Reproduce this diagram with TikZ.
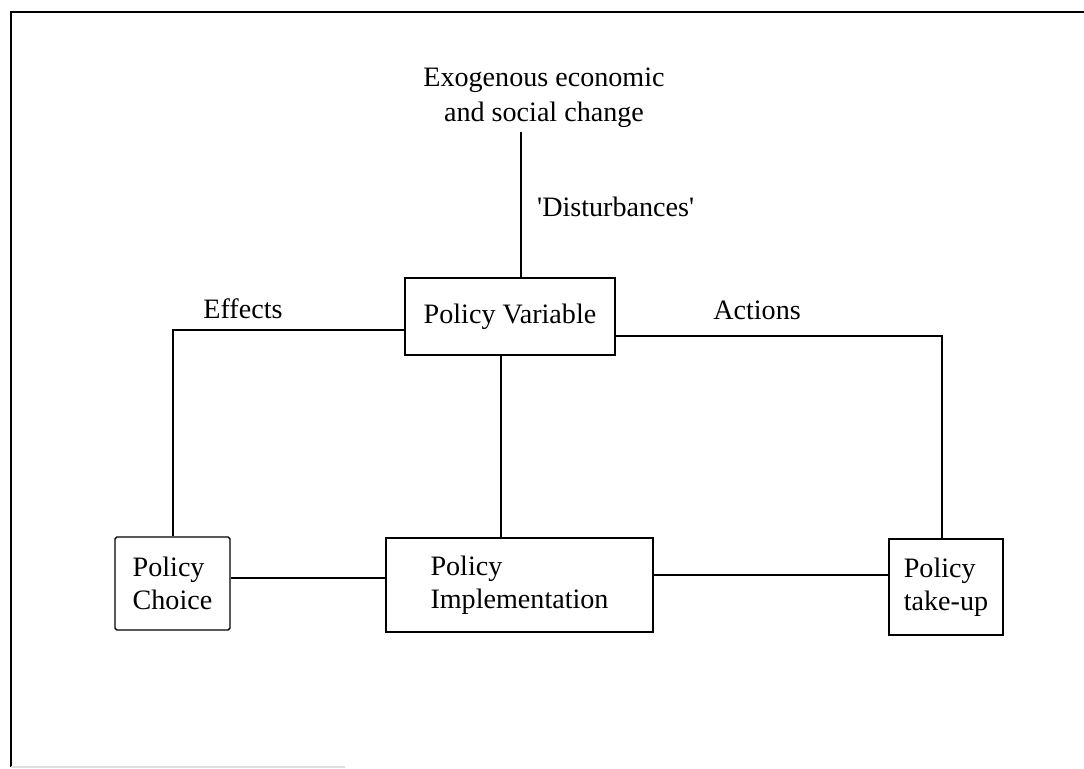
\documentclass[tikz,border=0pt]{standalone}
\usepackage{fontspec}
\setmainfont{Liberation Serif}
\usetikzlibrary{positioning}

\begin{document}
\begin{tikzpicture}[x=0.02cm, y=-0.02cm,
    box/.style={draw, line width=0.8pt, inner sep=0pt, align=left},
    link/.style={draw, line width=0.7pt},
    font=\fontsize{16}{19}\selectfont]
    \useasboundingbox (0,0) rectangle (1084,768);

    % Frame round the figure
    \draw[line width=1.2pt] (11,767) -- (11,12) -- (1084,12);
    \draw[gray!25, line width=0.6pt] (11,767) -- (345,767);

    % Define the boxes
    \node[box, minimum width=4.2cm, minimum height=1.54cm] (pv) at (510,316.5) {Policy Variable};
    \node[box, minimum width=2.3cm, minimum height=1.86cm, rounded corners=1pt] (pc) at (172.5,583.5) {Policy\\Choice};
    \node[box, minimum width=5.34cm, minimum height=1.88cm] (pi) at (519.5,585) {Policy\\Implementation};
    \node[box, minimum width=2.28cm, minimum height=1.92cm] (pt) at (946,587) {Policy\\take-up};

    % Texts without a box
    \node[align=center, font=\fontsize{16}{20}\selectfont] (exo) at (544,98) {Exogenous economic\\and social change};
    \node[anchor=west] (dist) at (531,207) {\textquotesingle Disturbances\textquotesingle};
    \node (eff) at (243,309) {Effects};
    \node (act) at (757,310) {Actions};

    % Corners of the connectors
    \coordinate (dtop) at (521,132);
    \coordinate (effc) at (173,330);
    \coordinate (actc) at (942,336);

    % Draw the connectors
    \draw[link] (dtop) -- (dtop |- pv.north);
    \draw[link] (pv.west |- effc) -- (effc) -- (effc |- pc.north);
    \draw[link] (pv.east |- actc) -- (actc) -- (actc |- pt.north);
    \draw[link] ([xshift=-0.18cm]pv.south) -- ([xshift=-0.18cm]pv.south |- pi.north);
    \draw[link] ([yshift=0.11cm]pc.east) -- ([yshift=0.11cm]pc.east -| pi.west);
    \draw[link] ([yshift=0.2cm]pi.east) -- ([yshift=0.2cm]pi.east -| pt.west);
\end{tikzpicture}
\end{document}
